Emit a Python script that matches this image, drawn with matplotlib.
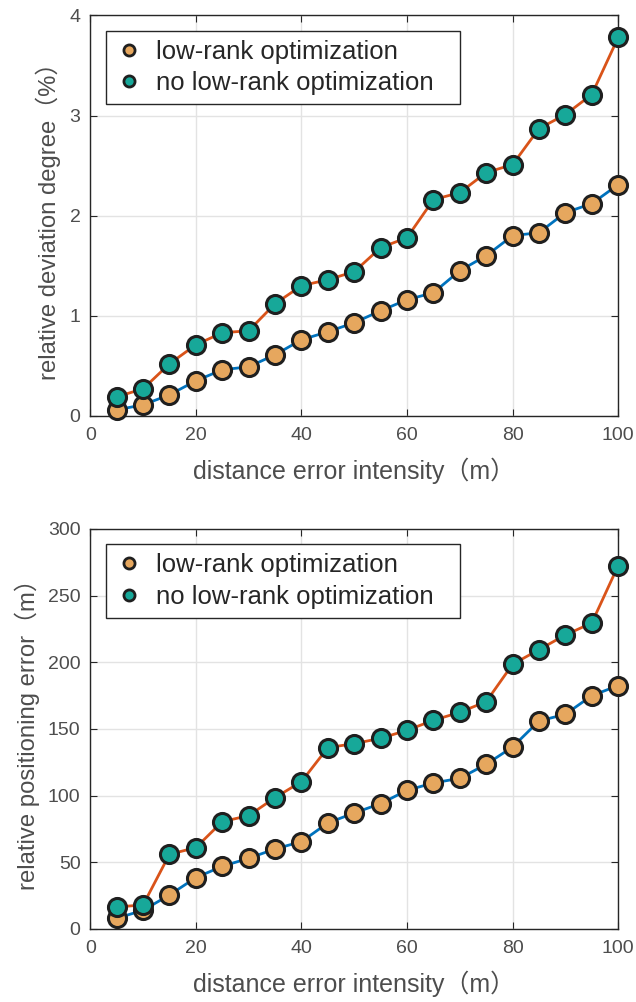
import matplotlib
matplotlib.use('Agg')
import matplotlib.pyplot as plt
from matplotlib.lines import Line2D
import numpy as np

plt.rcParams['font.family'] = ['Liberation Sans', 'Noto Sans CJK SC']

# data
intensity = [5, 10, 15, 20, 25, 30, 35, 40, 45, 50,
             55, 60, 65, 70, 75, 80, 85, 90, 95, 100]

dev_lowrank = [0.06, 0.11, 0.21, 0.35, 0.46, 0.49, 0.61, 0.76, 0.84, 0.93,
               1.05, 1.16, 1.23, 1.45, 1.60, 1.80, 1.83, 2.03, 2.12, 2.31]
dev_nolowrank = [0.19, 0.27, 0.52, 0.71, 0.83, 0.85, 1.12, 1.30, 1.36, 1.44,
                 1.68, 1.78, 2.16, 2.23, 2.43, 2.51, 2.87, 3.01, 3.21, 3.78]

pos_lowrank = [8, 14, 25.5, 38.5, 47, 53, 60, 65.5, 79.5, 87,
               94, 104, 109.5, 113, 123.5, 136.5, 156, 161, 175, 182.5]
pos_nolowrank = [16.5, 18, 56, 61, 80.5, 85, 98.5, 110.5, 136, 139,
                 143, 149, 156.5, 162.5, 170.5, 198.5, 209.5, 220.5, 229.5, 272.5]

labels = ['low-rank optimization', 'no low-rank optimization']
ylabels = ['relative deviation degree（%）', 'relative positioning error（m）']
xlabel = 'distance error intensity（m）'

line_cols = ['#0072BD', '#D95319']
face_cols = ['#E6A75E', '#17A899']
edge_col = '#1f1f1f'
txt_col = '#4d4d4d'

fig = plt.figure(figsize=(6.36, 10.02), dpi=100)
ax1 = fig.add_axes([0.142, 0.585, 0.830, 0.3996])
ax2 = fig.add_axes([0.142, 0.0729, 0.830, 0.3992])

panels = [(ax1, dev_lowrank, dev_nolowrank, 4, 1),
          (ax2, pos_lowrank, pos_nolowrank, 300, 50)]

for i, (ax, a, b, ymax, ystep) in enumerate(panels):
    for k, series in enumerate([a, b]):
        ax.plot(intensity, series, '-', color=line_cols[k], lw=2, zorder=2)
        ax.plot(intensity, series, 'o', ms=13, mfc=face_cols[k], mec=edge_col,
                mew=2.2, zorder=3, clip_on=False)
    ax.set_xlim(0, 100)
    ax.set_ylim(0, ymax)
    ax.set_xticks(np.arange(0, 101, 20))
    ax.set_yticks(np.arange(0, ymax + ystep / 2, ystep))
    ax.grid(True, color='#e3e3e3', lw=1)
    ax.set_axisbelow(True)
    for s in ax.spines.values():
        s.set_color('#262626')
        s.set_linewidth(1)
    ax.tick_params(direction='in', top=True, right=True, length=5,
                   labelsize=14, colors='#262626', labelcolor=txt_col)
    ax.tick_params(axis='x', pad=8)
    ax.tick_params(axis='y', pad=7)
    ax.set_xlabel(xlabel, fontsize=18, color=txt_col, labelpad=10)
    ax.set_ylabel(ylabels[i], fontsize=17.2, color=txt_col, labelpad=6)

    handles = [Line2D([], [], ls='none', marker='o', ms=8, mfc=face_cols[k],
                      mec=edge_col, mew=2) for k in range(2)]
    leg = ax.legend(handles, labels, loc='upper left',
                    bbox_to_anchor=(0.03, 0.5, 0.670, 0.462), mode='expand',
                    fontsize=18.5, frameon=True, fancybox=False, framealpha=1,
                    edgecolor='#262626', handletextpad=0.5, handlelength=1.1,
                    borderpad=0.35, labelspacing=0.3, borderaxespad=0)
    leg.get_frame().set_linewidth(1)
    for t in leg.get_texts():
        t.set_color('#262626')

fig.savefig('out.png', dpi=100)
